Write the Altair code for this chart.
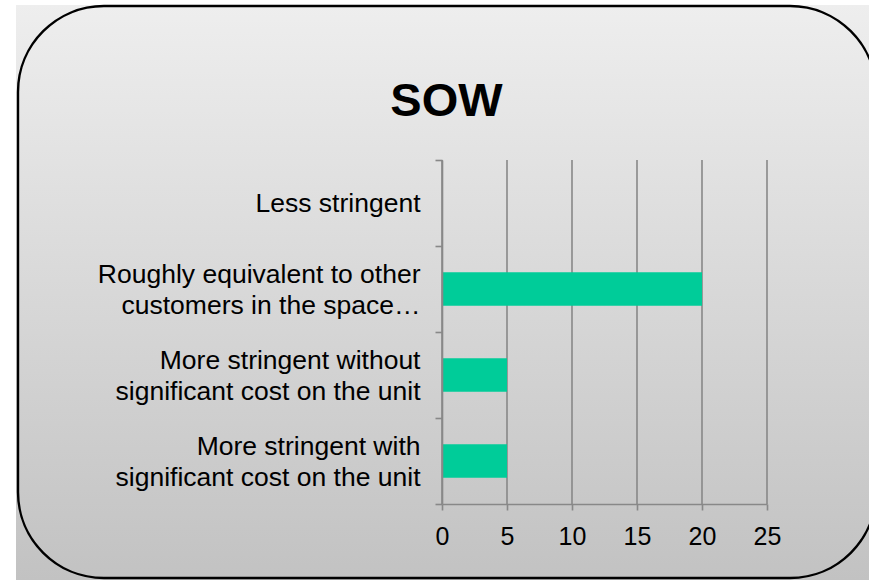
import altair as alt
import pandas as pd

# ---- data ----
categories = [
    "Less stringent",
    "Roughly equivalent to other|customers in the space…",
    "More stringent without|significant cost on the unit",
    "More stringent with|significant cost on the unit",
]
values = [0, 20, 5, 5]
x_ticks = [0, 5, 10, 15, 20, 25]
title_text = "SOW"

df = pd.DataFrame({"category": categories, "value": values})
ticks_df = pd.DataFrame({"tick": x_ticks})
frame_df = pd.DataFrame({"k": [0]})

# ---- layout ----
W, H = 325, 344
PL, PT, PR, PB = 442, 160, 102, 76
FONT = "Liberation Sans"
GRID = "#888888"
BAR = "#00CC99"

grad = alt.LinearGradient(
    gradient="linear",
    stops=[alt.GradientStop(color="#EEEEEE", offset=0),
           alt.GradientStop(color="#C2C2C2", offset=1)],
    x1=0, x2=0, y1=0, y2=1,
)

bg = alt.Chart(frame_df).mark_rect(color=grad).encode(
    x=alt.value(16 - PL), x2=alt.value(869 - PL),
    y=alt.value(5 - PT), y2=alt.value(580 - PT),
)

border = alt.Chart(frame_df).mark_rect(
    fillOpacity=0, stroke="black", strokeWidth=2.4, cornerRadius=86
).encode(
    x=alt.value(18 - PL), x2=alt.value(876 - PL),
    y=alt.value(6 - PT), y2=alt.value(578 - PT),
)

xscale = alt.Scale(domain=[0, 25], nice=False)
xaxis = alt.Axis(values=x_ticks, title=None, grid=False,
                 domainColor=GRID, domainWidth=1.6,
                 tickColor=GRID, tickWidth=1.6, tickSize=6,
                 labelFontSize=25, labelColor="black", labelFont=FONT,
                 labelFlush=False, labelPadding=14, zindex=1)

grid = alt.Chart(ticks_df).mark_rule(color=GRID, strokeWidth=1.6).encode(
    x=alt.X("tick:Q", scale=xscale, axis=xaxis),
    y=alt.value(0), y2=alt.value(H),
)

two_line = "isValid(datum.value) && indexof(datum.value, '|') >= 0"

bars = alt.Chart(df).mark_bar(color=BAR, height={"band": 0.39}).encode(
    x=alt.X("value:Q", scale=xscale, axis=xaxis),
    y=alt.Y("category:N", sort=categories,
            scale=alt.Scale(paddingInner=0, paddingOuter=0),
            axis=alt.Axis(title=None, grid=False, tickBand="extent",
                          domainColor=GRID, domainWidth=1.6,
                          tickColor=GRID, tickWidth=1.6, tickSize=7,
                          labelExpr="isValid(datum.value) ? split(datum.value, '|') : ''",
                          labelAlign="right", labelBaseline="middle",
                          labelOffset={"condition": {"test": two_line, "value": -15},
                                       "value": 0},
                          labelFontSize=26.5, labelColor="black", labelFont=FONT,
                          labelLineHeight=31, labelPadding=15, labelLimit=400,
                          zindex=1)),
)

chart = alt.layer(bg, border, grid, bars).properties(
    width=W, height=H,
    padding={"left": PL, "top": PT, "right": PR, "bottom": PB},
    autosize=alt.AutoSizeParams(type="none"),
    title=alt.TitleParams(title_text, font=FONT, fontSize=47, fontWeight="bold",
                          color="black", anchor="middle", frame="group", dx=-158,
                          baseline="alphabetic", offset=-158),
).configure_view(stroke=None)

chart.save("out.html", embed_options={"renderer": "svg", "actions": False})
